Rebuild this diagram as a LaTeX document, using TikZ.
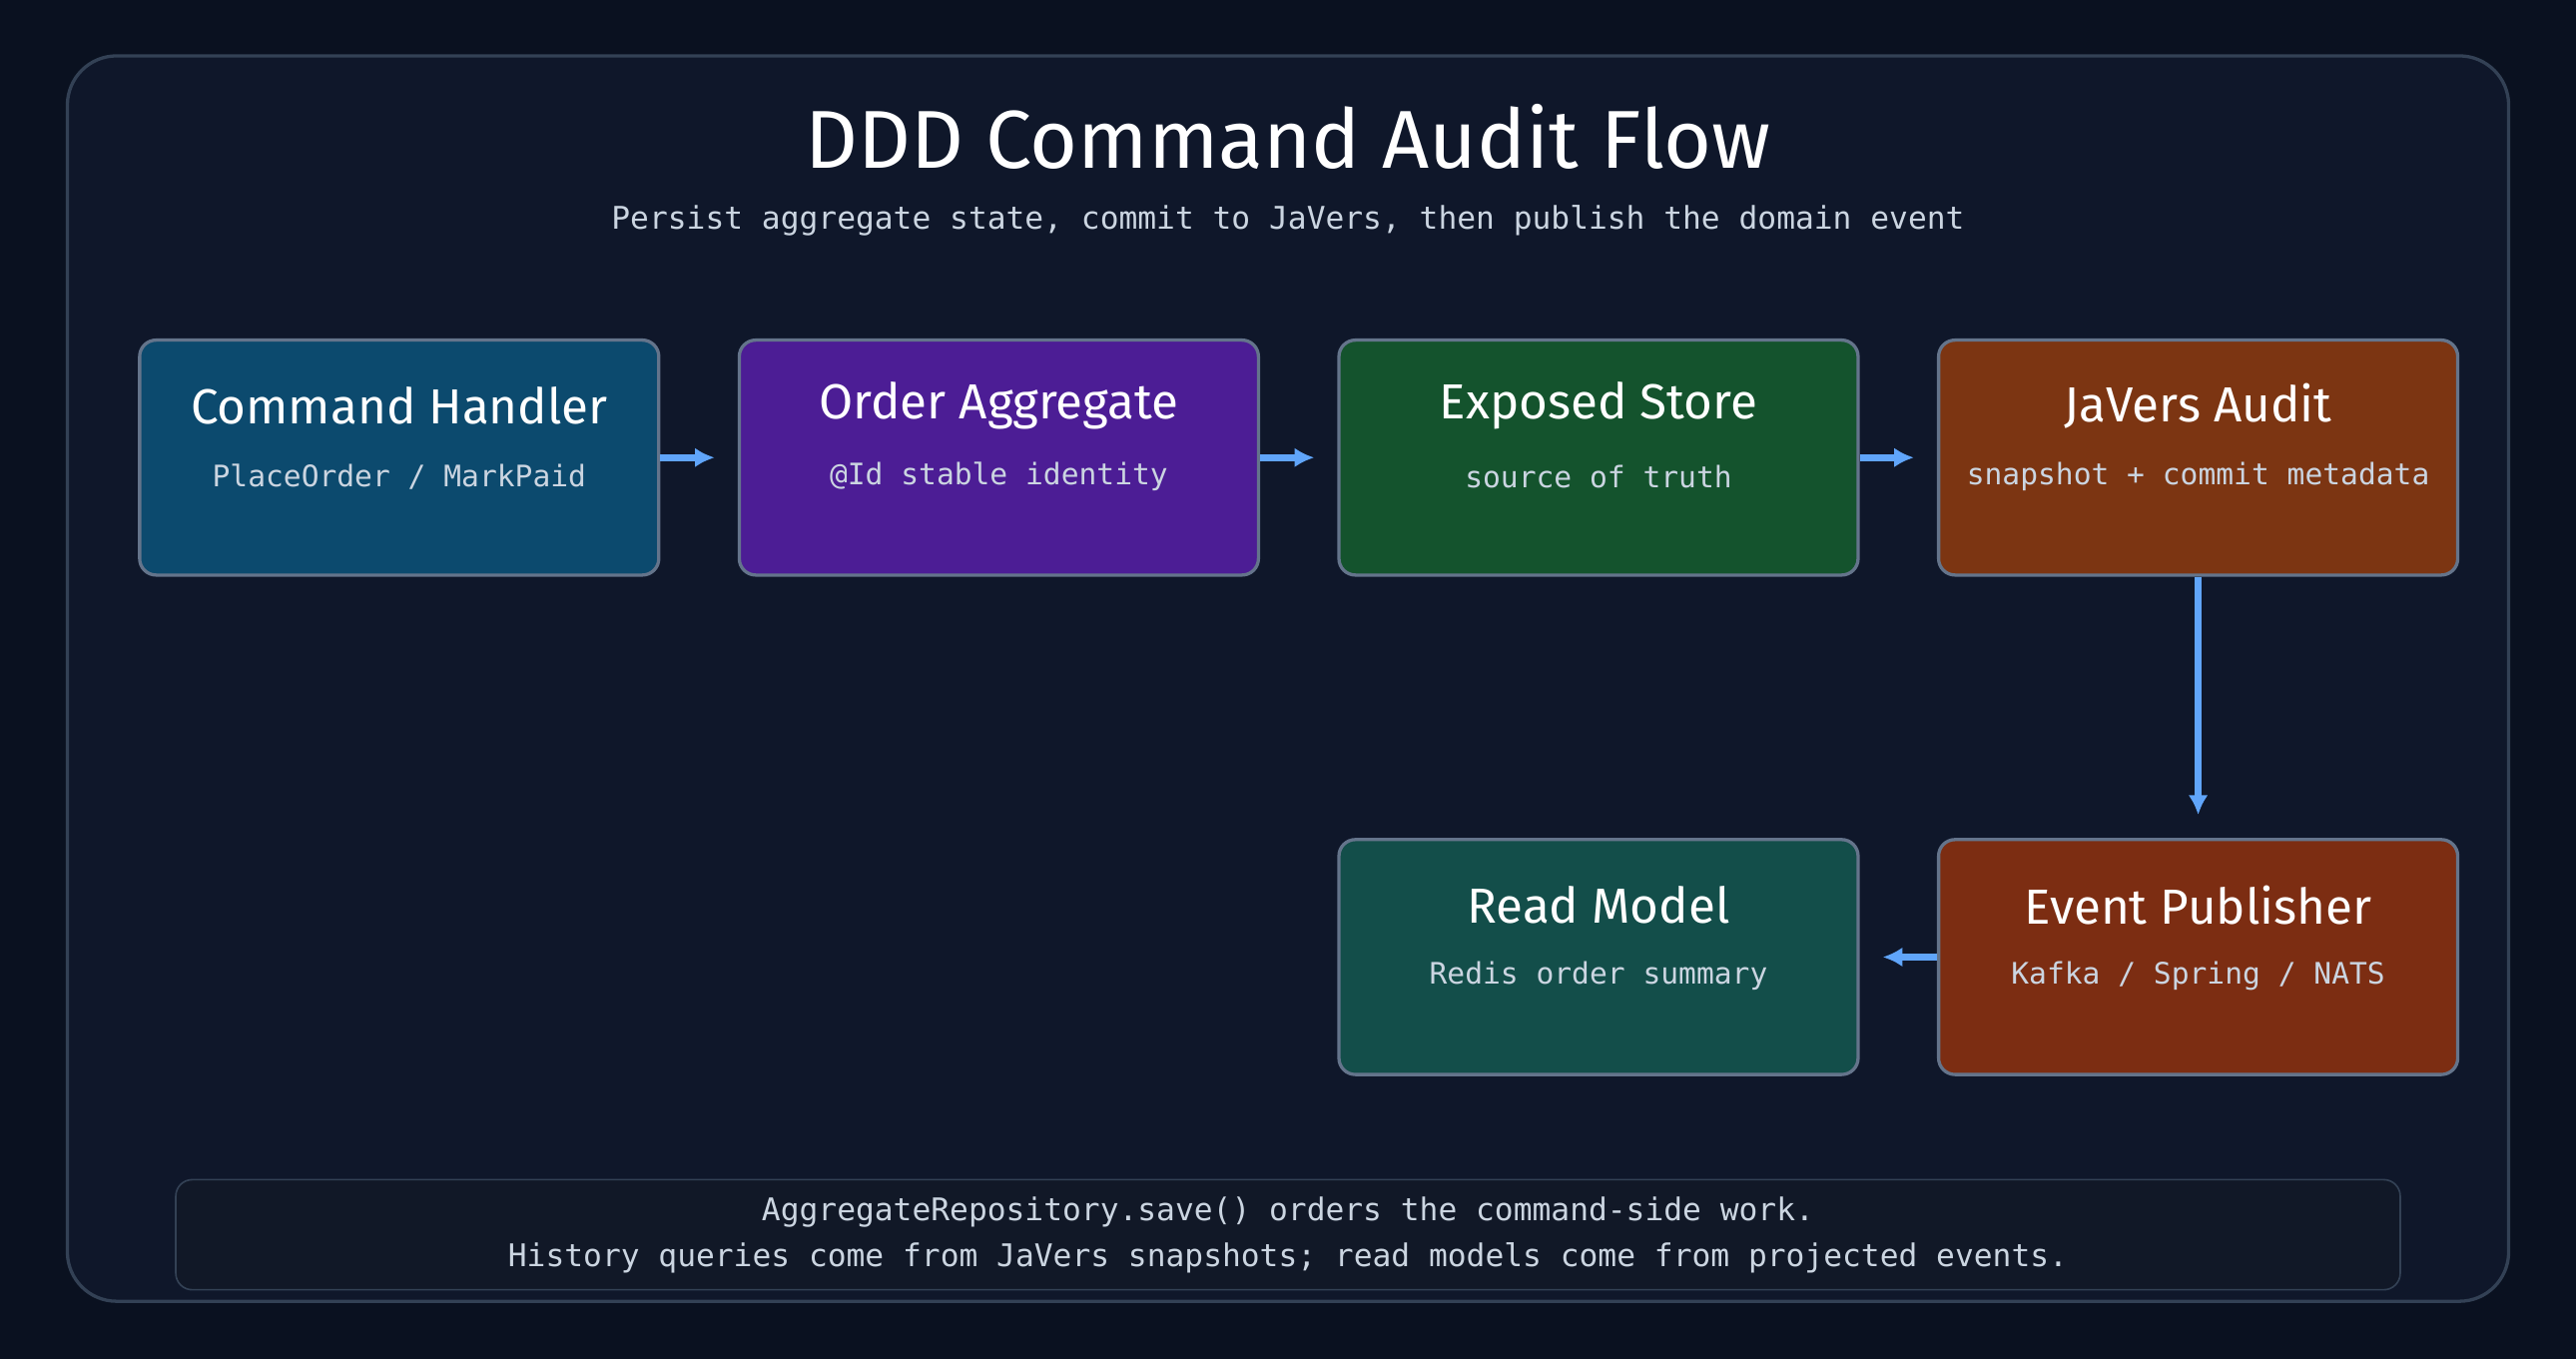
\documentclass[tikz,border=0pt]{standalone}
\usepackage{fontspec}
\setmainfont{Fira Sans}
\setmonofont{DejaVu Sans Mono}
\usetikzlibrary{arrows.meta,positioning}
\definecolor{pagebg}{HTML}{0A1120}
\definecolor{framebg}{HTML}{0F172A}
\definecolor{notebg}{HTML}{111827}
\definecolor{frameline}{HTML}{334155}
\definecolor{boxline}{HTML}{64748B}
\definecolor{flowblue}{HTML}{60A5FA}
\definecolor{subtxt}{HTML}{CBD5E1}
\definecolor{handlerfill}{HTML}{0C4A6E}
\definecolor{aggfill}{HTML}{4C1D95}
\definecolor{storefill}{HTML}{14532D}
\definecolor{auditfill}{HTML}{7C3512}
\definecolor{pubfill}{HTML}{7C2D12}
\definecolor{readfill}{HTML}{134E4A}
\begin{document}
\begin{tikzpicture}[x=1pt,y=-1pt,
    >={Latex[length=12pt,width=12pt]},
    ]
% -------------------------------------------------
% Styles for the stages and connectors
\tikzset{
  stage/.style={draw=boxline, line width=2pt, rounded corners=10pt,
    minimum width=316pt, minimum height=143pt, inner sep=0pt},
  head/.style={text=white, font=\fontsize{30}{36}\selectfont},
  sub/.style={text=subtxt, font=\ttfamily\fontsize{18}{22}\selectfont},
  flow/.style={->, draw=flowblue, line width=4pt, shorten >=2pt},
}
% -------------------------------------------------
% Background and frame
\fill[pagebg] (0,0) rectangle (1568,827);
\useasboundingbox (0,0) rectangle (1568,827);
\draw[frameline, fill=framebg, line width=2pt, rounded corners=30pt]
  (41,34) rectangle (1527,792);
\node[text=white, font=\fontsize{50}{60}\selectfont] (title) at (784,83)
  {DDD Command Audit Flow};
\node[sub, font=\ttfamily\fontsize{19}{23}\selectfont] (subtitle) at (784,134)
  {Persist aggregate state, commit to JaVers, then publish the domain event};
% -------------------------------------------------
% Stages
\node[stage, fill=handlerfill] (handler) at (243,278.5) {};
\node[stage, fill=aggfill, right=47pt of handler] (agg) {};
\node[stage, fill=storefill, right=47pt of agg] (store) {};
\node[stage, fill=auditfill, right=47pt of store] (audit) {};
\node[stage, fill=pubfill, below=159pt of audit] (pub) {};
\node[stage, fill=readfill, left=47pt of pub] (read) {};
% Labels inside the stages
\foreach \n/\h/\s in {handler/Command Handler/{PlaceOrder / MarkPaid},
    agg/Order Aggregate/@Id stable identity,
    store/Exposed Store/source of truth,
    audit/JaVers Audit/snapshot + commit metadata,
    pub/Event Publisher/{Kafka / Spring / NATS},
    read/Read Model/Redis order summary}{
  \node[head] (\n-head) at ([yshift=-41pt]\n.north) {\h};
  \node[sub] (\n-sub) at ([yshift=-84pt]\n.north) {\s};
}
% -------------------------------------------------
% Connectors
\draw[flow] (handler) -- ([xshift=-12pt]agg.west);
\draw[flow] (agg) -- ([xshift=-12pt]store.west);
\draw[flow] (store) -- ([xshift=-12pt]audit.west);
\draw[flow] (audit) -- ([yshift=12pt]pub.north);
\draw[flow] (pub) -- ([xshift=12pt]read.east);
% -------------------------------------------------
% Note at the bottom
\node[draw=frameline, line width=1pt, fill=notebg, rounded corners=10pt,
  minimum width=1354pt, minimum height=67pt, align=center, text=subtxt,
  font=\ttfamily\fontsize{19}{28}\selectfont] (note) at (784,751.5)
  {AggregateRepository.save() orders the command-side work.\\
   History queries come from JaVers snapshots; read models come from projected events.};
\end{tikzpicture}
\end{document}
